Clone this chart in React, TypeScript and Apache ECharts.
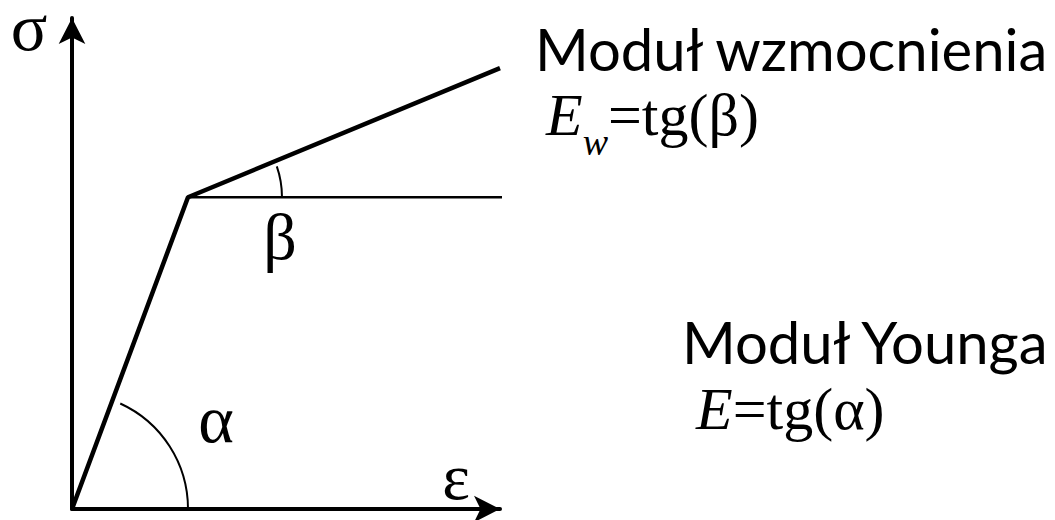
import React, { useEffect, useRef } from 'react';
import * as echarts from 'echarts';

// strain (ε) and stress (σ) of the bilinear model: origin, yield point, end of hardening
const strain = [0, 2.71, 10.0];
const stress = [0, 6.35, 8.98];
// horizontal reference line through the yield point
const refStrain = [2.71, 10.42];
const refStress = [6.35, 6.35];
const axisMaxX = 10;
const axisMaxY = 10;
const axisNames = ['ε', 'σ'];
const angleLabels = ['α', 'β'];
const titles = ['Moduł wzmocnienia', 'Moduł Younga'];

const SERIF = '"Liberation Serif", "Times New Roman", serif';
const SANS = 'Lato, "Open Sans", sans-serif';

export default function App() {
  const ref = useRef<HTMLDivElement>(null);
  useEffect(() => {
    if (!ref.current) return;
    const chart = echarts.init(ref.current, null, { renderer: 'svg' });
    const axisCommon = {
      axisLine: {
        show: true,
        onZero: false,
        symbol: ['none', 'arrow'],
        symbolSize: [20, 26],
        lineStyle: { color: '#000', width: 4 },
      },
      axisTick: { show: false },
      axisLabel: { show: false },
      splitLine: { show: false },
    };
    chart.setOption({
      animation: false,
      backgroundColor: '#fff',
      grid: { left: 72, right: 1055 - 500, top: 18, bottom: 520 - 509 },
      xAxis: { type: 'value', min: 0, max: axisMaxX, ...axisCommon },
      yAxis: { type: 'value', min: 0, max: axisMaxY, ...axisCommon },
      series: [
        {
          type: 'line',
          name: 'model',
          data: strain.map((x, i) => [x, stress[i]]),
          symbol: 'none',
          clip: false,
          lineStyle: { color: '#000', width: 4.5 },
        },
        {
          type: 'line',
          name: 'ref',
          data: refStrain.map((x, i) => [x, refStress[i]]),
          symbol: 'none',
          clip: false,
          lineStyle: { color: '#000', width: 2.5 },
        },
      ],
    });

    const p0 = chart.convertToPixel({ gridIndex: 0 }, [strain[0], stress[0]]) as number[];
    const pk = chart.convertToPixel({ gridIndex: 0 }, [strain[1], stress[1]]) as number[];
    const pe = chart.convertToPixel({ gridIndex: 0 }, [strain[2], stress[2]]) as number[];
    const a1 = Math.atan2(pk[1] - p0[1], pk[0] - p0[0]);
    const a2 = Math.atan2(pe[1] - pk[1], pe[0] - pk[0]);

    const txt = (text: string, x: number, y: number, fontSize: number, family: string, align = 'center', extra: any = {}) => ({
      type: 'text',
      x,
      y,
      style: { text, fontSize, fontFamily: family, fill: '#000', align, verticalAlign: 'middle', ...extra },
    });

    chart.setOption({
      graphic: [
        {
          type: 'arc',
          shape: { cx: p0[0], cy: p0[1], r: 116, startAngle: a1 * 0.94, endAngle: 0, clockwise: true },
          style: { stroke: '#000', lineWidth: 2, fill: 'none' },
        },
        {
          type: 'arc',
          shape: { cx: pk[0], cy: pk[1], r: 94, startAngle: a2 * 0.85, endAngle: 0, clockwise: true },
          style: { stroke: '#000', lineWidth: 2, fill: 'none' },
        },
        txt(axisNames[1], 29, 27, 68, SERIF, 'center', { lineHeight: 40 }),
        txt(axisNames[0], 456, 476, 66, SERIF, 'center', { lineHeight: 40 }),
        txt(angleLabels[0], 216, 419, 68, SERIF, 'center', { lineHeight: 40 }),
        txt(angleLabels[1], 280, 236, 66, SERIF, 'center', { lineHeight: 50 }),
        txt(titles[0], 535, 48, 58, SANS, 'left'),
        txt(titles[1], 682, 341, 58, SANS, 'left'),
        {
          type: 'text',
          x: 546,
          y: 115,
          style: {
            text: '{i|E}{s|w}{n|=tg(β)}',
            fontSize: 60,
            fontFamily: SERIF,
            fill: '#000',
            align: 'left',
            verticalAlign: 'middle',
            rich: {
              i: { fontStyle: 'italic', fontSize: 60, fontFamily: SERIF, lineHeight: 60, verticalAlign: 'middle' },
              s: { fontStyle: 'italic', fontSize: 38, fontFamily: SERIF, lineHeight: 92, verticalAlign: 'bottom' },
              n: { fontSize: 60, fontFamily: SERIF, lineHeight: 60, verticalAlign: 'middle' },
            },
          },
        },
        {
          type: 'text',
          x: 696,
          y: 409,
          style: {
            text: '{i|E}=tg(α)',
            fontSize: 60,
            fontFamily: SERIF,
            fill: '#000',
            align: 'left',
            verticalAlign: 'middle',
            rich: { i: { fontStyle: 'italic', fontSize: 60, fontFamily: SERIF } },
          },
        },
      ],
    });
    return () => chart.dispose();
  }, []);
  return <div ref={ref} style={{ position: 'fixed', left: 0, top: 0, width: 1055, height: 520 }} />;
}
